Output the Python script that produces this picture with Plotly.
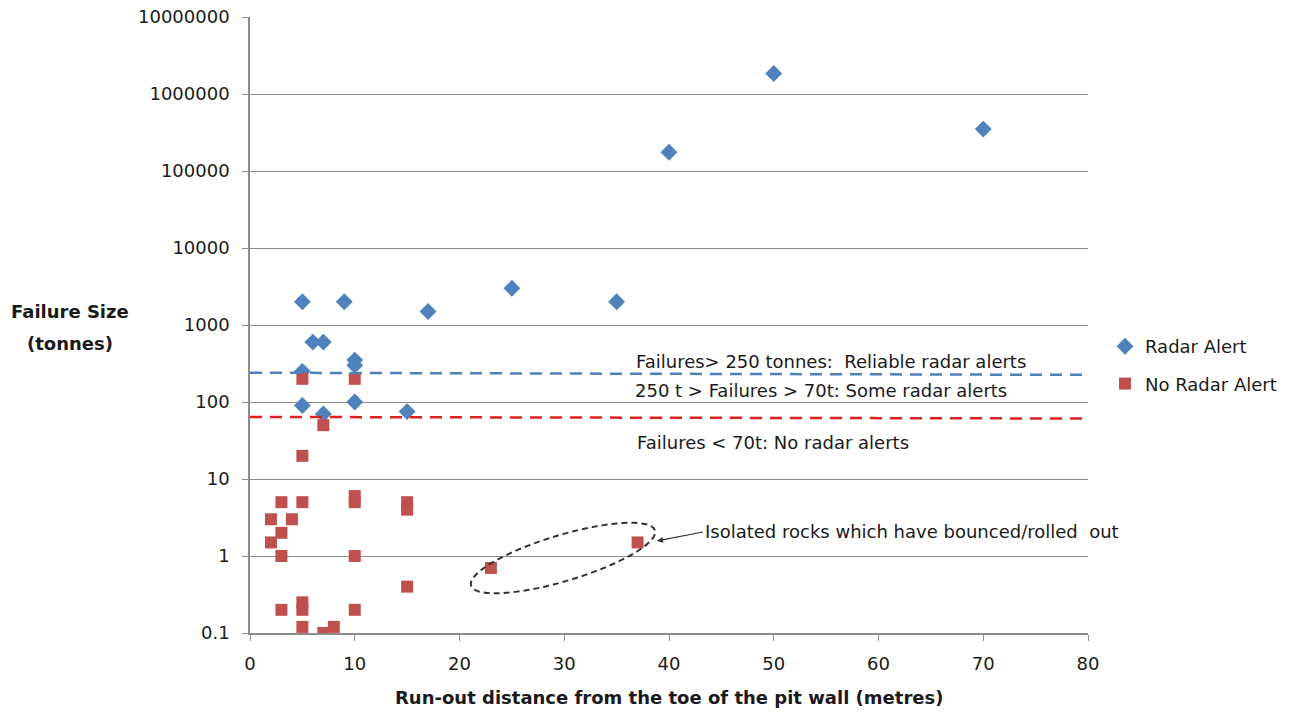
import math
import plotly.graph_objects as go

# ---------------- data ----------------
radar_x = [5, 9, 17, 25, 35, 40, 50, 70, 6, 7, 10, 10, 5, 5, 7, 10, 15]
radar_y = [2000, 2000, 1500, 3000, 2000, 175000, 1850000, 350000, 600, 600,
           350, 300, 250, 90, 70, 100, 75]

noradar_x = [5, 10, 7, 5, 3, 5, 10, 10, 15, 15, 2, 4, 3, 2, 3, 10, 15, 3, 5, 5,
             10, 5, 7, 8, 23, 37]
noradar_y = [200, 200, 50, 20, 5, 5, 6, 5, 5, 4, 3, 3, 2, 1.5, 1, 1, 0.4, 0.2,
             0.25, 0.2, 0.2, 0.12, 0.1, 0.12, 0.7, 1.5]

y_tickvals = [0.1, 1, 10, 100, 1000, 10000, 100000, 1000000, 10000000]
y_ticktext = ["0.1", "1", "10", "100", "1000", "10000", "100000", "1000000", "10000000"]
x_tickvals = [0, 10, 20, 30, 40, 50, 60, 70, 80]

# threshold lines (left value, right value)
blue_line = (240, 225)
red_line = (64, 61)

FONT = "DejaVu Sans, sans-serif"
BLUE = "#4F81BD"
RED = "#C0504D"
GRID = "#8C8C8C"
TXT = "#1A1A1A"

W, H = 1293, 713
ML, MR, MT, MB = 250, 205, 17, 80
PW, PH = W - ML - MR, H - MT - MB

fig = go.Figure()
fig.add_trace(go.Scatter(
    x=radar_x, y=radar_y, mode="markers", name="Radar Alert",
    marker=dict(symbol="diamond", size=13, color=BLUE), legendgroup="a"))
fig.add_trace(go.Scatter(
    x=noradar_x, y=noradar_y, mode="markers", name="No Radar Alert",
    marker=dict(symbol="square", size=12, color=RED), legendgroup="b"))

shapes = [
    dict(type="line", xref="x", yref="y", x0=0, x1=80, y0=blue_line[0], y1=blue_line[1],
         line=dict(color=BLUE, width=2.5, dash="12px,8px")),
    dict(type="line", xref="x", yref="y", x0=0, x1=80, y0=red_line[0], y1=red_line[1],
         line=dict(color="#E02020", width=2.5, dash="12px,8px")),
]

# dashed ellipse around the isolated rocks (defined in pixel geometry -> paper)
cx_px, cy_px, a_px, b_px, ang = 563, 558, 96, 23, math.radians(16.7)
pts = []
for i in range(73):
    t = 2 * math.pi * i / 72
    px = cx_px + a_px * math.cos(t) * math.cos(ang) - b_px * math.sin(t) * math.sin(ang)
    py = cy_px - (a_px * math.cos(t) * math.sin(ang) + b_px * math.sin(t) * math.cos(ang))
    pts.append(((px - ML) / PW, (MT + PH - py) / PH))
path = "M " + " L ".join(f"{x:.5f},{y:.5f}" for x, y in pts) + " Z"
shapes.append(dict(type="path", xref="paper", yref="paper", path=path,
                   line=dict(color="#333333", width=2, dash="6px,4px")))


def py2paper(py):
    return (MT + PH - py) / PH


ann_font = dict(family=FONT, size=18, color=TXT)
annotations = [
    dict(x=36.7, y=math.log10(340), xref="x", yref="y", text="Failures> 250 tonnes:  Reliable radar alerts",
         showarrow=False, xanchor="left", yanchor="middle", font=ann_font),
    dict(x=36.6, y=math.log10(140), xref="x", yref="y", text="250 t > Failures > 70t: Some radar alerts",
         showarrow=False, xanchor="left", yanchor="middle", font=ann_font),
    dict(x=36.8, y=math.log10(30), xref="x", yref="y", text="Failures < 70t: No radar alerts",
         showarrow=False, xanchor="left", yanchor="middle", font=ann_font),
    dict(x=38.85, y=0.195, xref="x", yref="y", text="Isolated rocks which have bounced/rolled  out",
         showarrow=True, arrowhead=2, arrowsize=1, arrowwidth=1.2, arrowcolor="#333",
         ax=46, ay=-9, xanchor="left", yanchor="middle", font=ann_font),
    dict(x=(70 - ML) / PW, y=py2paper(311), xref="paper", yref="paper",
         text="<b>Failure Size</b>", showarrow=False,
         xanchor="center", yanchor="middle", font=dict(family=FONT, size=18, color=TXT)),
    dict(x=(70 - ML) / PW, y=py2paper(343), xref="paper", yref="paper",
         text="<b>(tonnes)</b>", showarrow=False,
         xanchor="center", yanchor="middle", font=dict(family=FONT, size=18, color=TXT)),
    dict(x=(669 - ML) / PW, y=py2paper(697), xref="paper", yref="paper",
         text="<b>Run-out distance from the toe of the pit wall (metres)</b>", showarrow=False,
         xanchor="center", yanchor="middle", font=dict(family=FONT, size=18, color=TXT)),
]

fig.update_layout(
    width=W, height=H,
    margin=dict(l=ML, r=MR, t=MT, b=MB, pad=0, autoexpand=False),
    paper_bgcolor="white", plot_bgcolor="white",
    font=dict(family=FONT, size=18, color=TXT),
    shapes=shapes, annotations=annotations,
    legend=dict(x=(1105 - ML) / PW, y=py2paper(328), xanchor="left", yanchor="top",
                font=dict(family=FONT, size=18, color=TXT), tracegroupgap=11,
                itemwidth=30, bgcolor="rgba(0,0,0,0)"),
    showlegend=True,
)
fig.update_xaxes(range=[0, 80], tickvals=x_tickvals, showgrid=False, zeroline=False,
                 automargin=False,
                 showline=True, linecolor=GRID, linewidth=1.5, ticks="outside", ticklen=6,
                 tickcolor=GRID, ticklabelstandoff=8,
                 tickfont=dict(family=FONT, size=18, color=TXT))
fig.update_yaxes(type="log", range=[-1, 7], tickvals=y_tickvals, ticktext=y_ticktext,
                 automargin=False,
                 showgrid=True, gridcolor=GRID, gridwidth=1, zeroline=False,
                 showline=True, linecolor=GRID, linewidth=1.5, ticks="outside", ticklen=6,
                 tickcolor=GRID, ticklabelstandoff=9,
                 tickfont=dict(family=FONT, size=18, color=TXT))

fig.write_html("out.html")
